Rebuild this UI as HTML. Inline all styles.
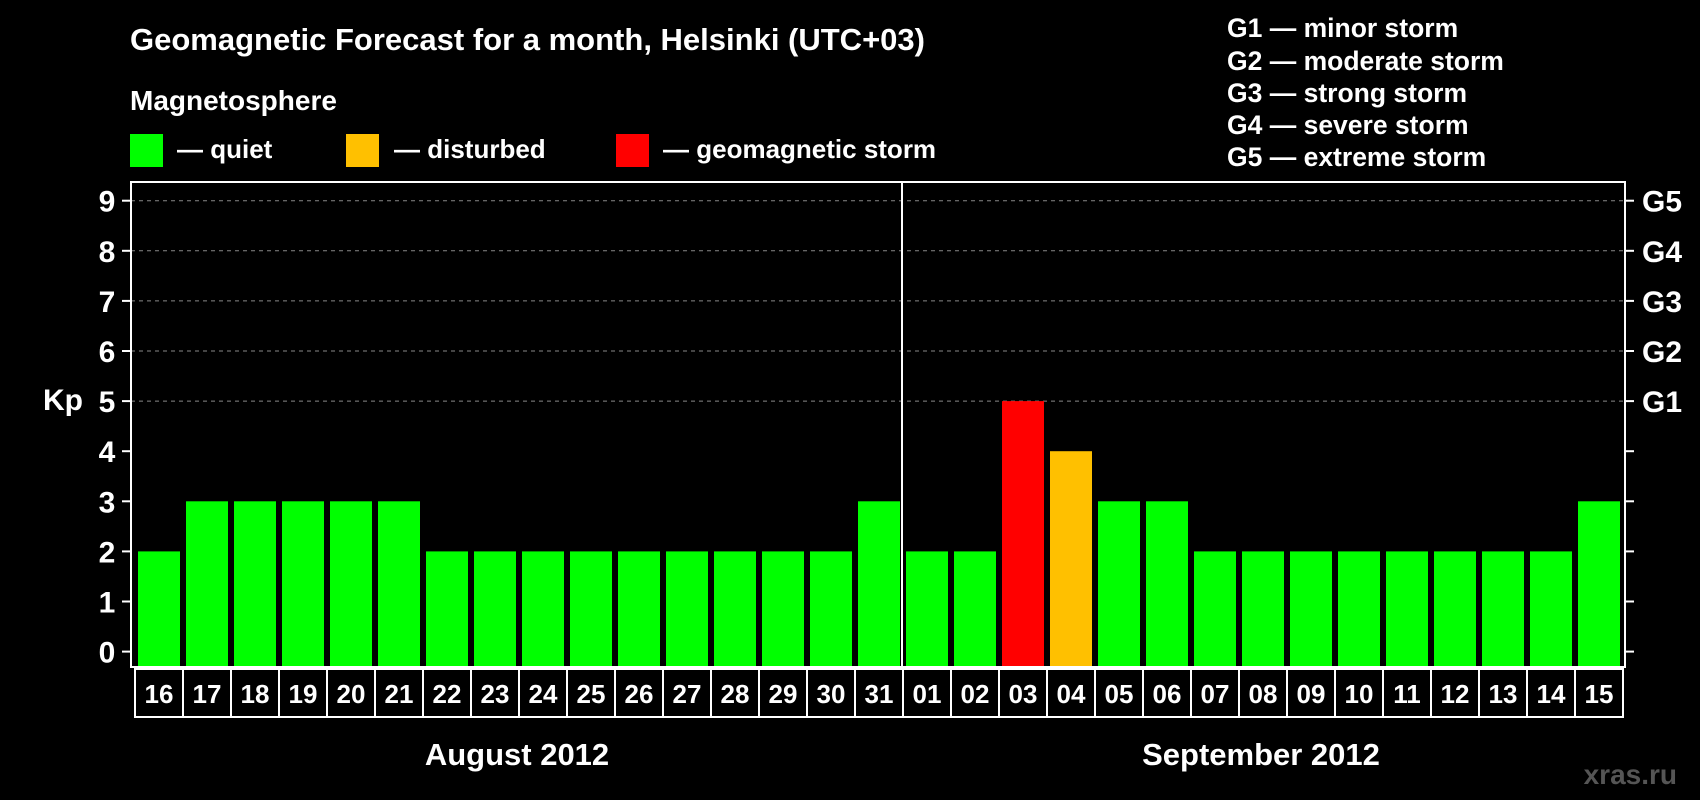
<!DOCTYPE html>
<html><head><meta charset="utf-8"><style>
html,body{margin:0;padding:0;background:#000;}
svg{display:block;font-family:"Liberation Sans",sans-serif;font-weight:bold;}
</style></head><body>
<svg id="chart" width="1700" height="800" viewBox="0 0 1700 800">
<rect width="1700" height="800" fill="#000"/>
<text x="130" y="50" font-size="31" fill="#fff">Geomagnetic Forecast for a month, Helsinki (UTC+03)</text>
<text x="130" y="110" font-size="28" fill="#fff">Magnetosphere</text>
<g><rect x="130" y="134" width="33" height="33" fill="#00ff00"/><text x="177" y="158" font-size="26" fill="#fff">— quiet</text></g>
<g><rect x="346" y="134" width="33" height="33" fill="#ffc000"/><text x="394" y="158" font-size="26" fill="#fff">— disturbed</text></g>
<g><rect x="616" y="134" width="33" height="33" fill="#ff0000"/><text x="663" y="158" font-size="26" fill="#fff">— geomagnetic storm</text></g>
<g font-size="26.5" fill="#fff">
<text x="1227" y="37">G1 — minor storm</text>
<text x="1227" y="70">G2 — moderate storm</text>
<text x="1227" y="102">G3 — strong storm</text>
<text x="1227" y="134">G4 — severe storm</text>
<text x="1227" y="166">G5 — extreme storm</text>
</g>
<text x="63" y="410" font-size="30" fill="#fff" text-anchor="middle">Kp</text>
<text x="517" y="765" font-size="31" fill="#fff" text-anchor="middle">August 2012</text>
<text x="1261" y="765" font-size="31" fill="#fff" text-anchor="middle">September 2012</text>
<text x="1677" y="784" font-size="28" fill="#555" text-anchor="end">xras.ru</text>
<g id="plot"></g>
</svg>
<script>
const days=["16","17","18","19","20","21","22","23","24","25","26","27","28","29","30","31","01","02","03","04","05","06","07","08","09","10","11","12","13","14","15"];
const kpValues=[2,3,3,3,3,3,2,2,2,2,2,2,2,2,2,3,2,2,5,4,3,3,2,2,2,2,2,2,2,2,3];
const yTicks=[0,1,2,3,4,5,6,7,8,9];
const gLabels=["G1","G2","G3","G4","G5"];
const NS="http://www.w3.org/2000/svg";
const plot=document.getElementById('plot');
const L=131,R=1625,T=182,B=667;
const y=v=>651.6-v*50.1;
const pitch=48,x0=135;
const x=i=>x0+i*pitch;
function mk(tag,attrs){const e=document.createElementNS(NS,tag);for(const k in attrs)e.setAttribute(k,attrs[k]);plot.appendChild(e);return e;}
yTicks.forEach(v=>{
  if(v>=5){const g=mk('line',{x1:L,x2:R,y1:y(v),y2:y(v),stroke:'#888','stroke-dasharray':'4,4','stroke-width':1});
  
  }
  const t1=mk('line',{x1:L-9,x2:L,y1:y(v),y2:y(v),stroke:'#fff','stroke-width':2});
  
  
  const t2=mk('line',{x1:R,x2:R+9,y1:y(v),y2:y(v),stroke:'#fff','stroke-width':2});
  
  
  const lb=mk('text',{x:107,y:y(v)+11,'font-size':30,fill:'#fff','text-anchor':'middle'});
  lb.textContent=v;
  
  
});
gLabels.forEach((g,i)=>{
  const t=mk('text',{x:1642,y:y(5+i)+11,'font-size':30,fill:'#fff'});
  t.textContent=g;
  
  
});
kpValues.forEach((v,i)=>{
  const c=v>=5?'#ff0000':(v>=4?'#ffc000':'#00ff00');
  const b=mk('rect',{x:x(i)+3,y:y(v),width:42,height:B-y(v),fill:c});
  
  
  const bx=mk('rect',{x:x(i),y:669,width:pitch,height:48,fill:'none',stroke:'#fff','stroke-width':2});
  
  
  const t=mk('text',{x:x(i)+pitch/2,y:703,'font-size':26,fill:'#fff','text-anchor':'middle'});
  t.textContent=days[i];
  
  
});
const fr=mk('rect',{x:L,y:T,width:R-L,height:B-T,fill:'none',stroke:'#fff','stroke-width':2});


const dv=mk('line',{x1:x(16)-1,x2:x(16)-1,y1:T,y2:B,stroke:'#fff','stroke-width':2});


</script>
</body></html>
